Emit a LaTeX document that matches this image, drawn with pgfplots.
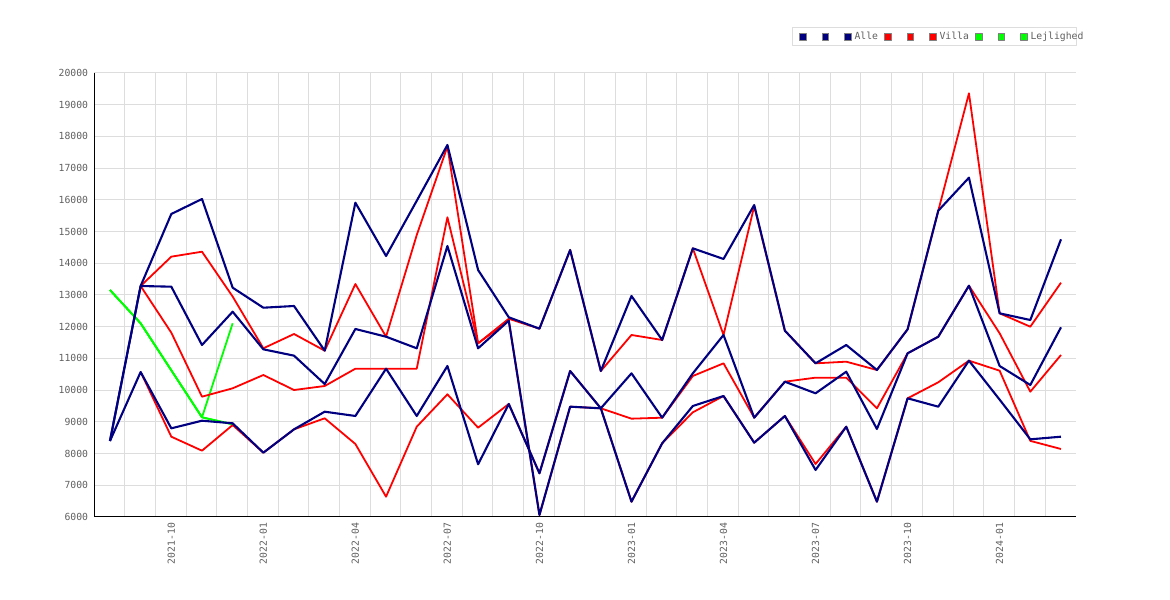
\documentclass[border=0pt]{standalone}
\usepackage{fontspec}
\setmainfont{DejaVu Sans Mono}
\usepackage{pgfplots}
\usepackage{pgfplotstable}
\pgfplotsset{compat=1.18}
\definecolor{navyc}{HTML}{000080}
\definecolor{redc}{HTML}{FF0000}
\definecolor{greenc}{HTML}{00FF00}
\definecolor{gridc}{HTML}{DDDDDD}
\definecolor{txtc}{HTML}{606060}

\pgfplotstableread{
x A B C
0 8396 8396 8396
1 13283 13283 10572
2 15554 13262 8796
3 16027 11423 9036
4 13230 12473 8954
5 12599 11287 8028
6 12653 11087 8764
7 11244 10193 9320
8 15910 11928 9185
9 14229 11685 10676
10 15970 11319 9185
11 17730 14545 10761
12 13788 11319 7662
13 12297 12190 9563
14 11937 6063 7378
15 14419 9478 10603
16 10603 9427 9427
17 12968 10530 6483
18 11581 9131 8323
19 14471 10530 9500
20 14135 11739 9815
21 15837 9131 8343
22 11875 10266 9185
23 10845 9900 7482
24 11423 10581 8847
25 10635 8775 6483
26 11918 11161 9742
27 15658 11685 9478
28 16699 13293 10929
29 12422 10761 9700
30 12211 10162 8449
31 14756 11981 8532
}\navytab

\pgfplotstableread{
x A B C
1 13283 13283 10572
2 14208 11812 8532
3 14365 9793 8091
4 12950 10058 8900
5 11319 10477 8028
6 11770 10004 8764
7 11244 10130 9112
8 13346 10676 8302
9 11685 10676 6640
10 14890 10676 8847
11 17680 15450 9868
12 11477 11477 8816
13 12250 12190 9563
14 11937 6063 7378
15 14419 9478 10603
16 10603 9427 9427
17 11739 9100 6483
18 11581 9131 8323
19 14471 10446 9301
20 11739 10845 9815
21 15800 9131 8343
22 11875 10266 9185
23 10845 10393 7671
24 10897 10393 8847
25 10635 9427 6483
26 11918 11161 9742
27 15658 11685 10247
28 19359 13293 10929
29 12422 11792 10613
30 12000 9951 8400
31 13388 11108 8144
}\redtab

\pgfplotstableread{
x A B C
0 13157 13157 13157
1 12107 12107 12107
2 10625 10625 10625
3 9143 9143 9143
4 12107 8923 8923
}\greentab

\begin{document}
\begin{tikzpicture}[x=1bp,y=1bp]
\path[use as bounding box] (0,0) rectangle (1170,600);
\begin{axis}[
  at={(94bp,83bp)}, anchor=south west,
  scale only axis, width=982bp, height=444bp,
  xmin=-0.52, xmax=31.49, ymin=6000, ymax=20000,
  axis x line*=bottom, axis y line*=left,
  axis line style={black, line width=1bp},
  xtick={2,5,...,29},
  xticklabels={2021-10,2022-01,2022-04,2022-07,2022-10,2023-01,2023-04,2023-07,2023-10,2024-01},
  minor xtick={0.48,1.48,...,30.48},
  xminorgrids=true, xmajorgrids=false,
  ytick={6000,7000,...,20000},
  ymajorgrids=true,
  major tick length=0pt, minor tick length=0pt,
  grid style={gridc, line width=1bp},
  minor grid style={gridc, line width=1bp},
  scaled y ticks=false,
  /pgf/number format/assume math mode=true,
  /pgf/number format/1000 sep={},
  tick label style={font=\fontsize{9.8}{11}\selectfont, text=txtc, inner sep=0pt},
  x tick label style={rotate=90, anchor=east},
  xticklabel shift=5.7bp,
  yticklabel shift=5.7bp,
  legend columns=9,
  legend image code/.code={\draw[#1, draw=gray, line width=0.6bp] (0bp,-3.3bp) rectangle (6.7bp,3.3bp);},
  legend style={at={(1,1)}, anchor=south east, xshift=0.7bp, yshift=27bp,
    draw=gridc, line width=1bp, fill=white,
    font=\fontsize{9.8}{11}\selectfont, text=txtc,
    inner xsep=6.7bp, inner ysep=4.5bp,
    column sep=0pt,
    nodes={inner sep=0pt},
    /tikz/every even column/.append style={column sep=6.3bp}},
  line join=round,
]
\addplot[forget plot, greenc, line width=1.8bp] table[x=x,y=A]{\greentab};
\addplot[forget plot, greenc, line width=1.8bp] table[x=x,y=B]{\greentab};
\addplot[forget plot, greenc, line width=1.8bp] table[x=x,y=C]{\greentab};
\addplot[forget plot, redc, line width=1.8bp] table[x=x,y=A]{\redtab};
\addplot[forget plot, redc, line width=1.8bp] table[x=x,y=B]{\redtab};
\addplot[forget plot, redc, line width=1.8bp] table[x=x,y=C]{\redtab};
\addplot[forget plot, navyc, line width=2.1bp] table[x=x,y=A]{\navytab};
\addplot[forget plot, navyc, line width=2.1bp] table[x=x,y=B]{\navytab};
\addplot[forget plot, navyc, line width=2.1bp] table[x=x,y=C]{\navytab};
\addlegendimage{fill=navyc}\addlegendentry{\hspace*{3bp}\phantom{A}}
\addlegendimage{fill=navyc}\addlegendentry{\hspace*{3bp}\phantom{A}}
\addlegendimage{fill=navyc}\addlegendentry{\hspace*{3bp}Alle}
\addlegendimage{fill=redc}\addlegendentry{\hspace*{3bp}\phantom{A}}
\addlegendimage{fill=redc}\addlegendentry{\hspace*{3bp}\phantom{A}}
\addlegendimage{fill=redc}\addlegendentry{\hspace*{3bp}Villa}
\addlegendimage{fill=greenc}\addlegendentry{\hspace*{3bp}\phantom{A}}
\addlegendimage{fill=greenc}\addlegendentry{\hspace*{3bp}\phantom{A}}
\addlegendimage{fill=greenc}\addlegendentry{\hspace*{3bp}\makebox[39bp][l]{Lejlighed}}
\end{axis}
\end{tikzpicture}
\end{document}
